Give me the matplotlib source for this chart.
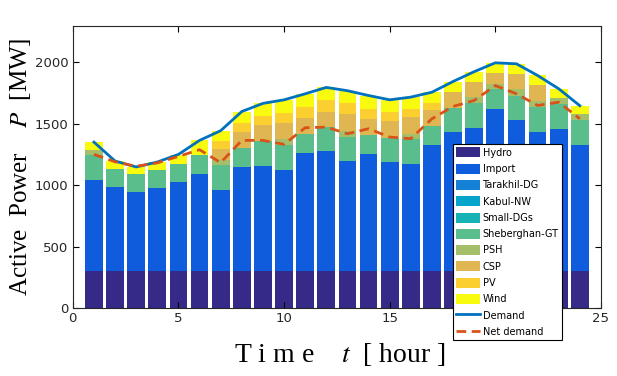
import numpy as np
import matplotlib
matplotlib.use("Agg")
import matplotlib.pyplot as plt
from matplotlib import font_manager

# hourly generation mix [MW]
hours = np.arange(1, 25)
hydro = [300] * 24
imports = [747, 688, 647, 679, 728, 795, 660, 850, 858, 823, 966, 977,
           898, 958, 890, 871, 1031, 1134, 1166, 1318, 1232, 1134, 1161, 1031]
tarakhil = [0] * 24
kabul_nw = [0] * 24
small_dgs = [0] * 24
sheberghan = [200, 148, 148, 146, 150, 155, 203, 155, 202, 202, 149, 197,
              195, 149, 195, 203, 149, 196, 201, 165, 199, 203, 203, 198]
psh = [42, 0, 0, 0, 0, 0, 41, 0, 0, 49, 0, 0,
       49, 0, 0, 46, 0, 0, 51, 45, 49, 49, 46, 48]
csp = [0, 0, 0, 0, 0, 0, 94, 129, 130, 133, 135, 127,
       135, 130, 138, 135, 130, 128, 127, 85, 127, 132, 0, 0]
pv = [0, 0, 0, 0, 0, 0, 60, 73, 76, 81, 87, 90,
      92, 86, 78, 68, 59, 0, 0, 0, 0, 0, 0, 0]
wind = [62, 62, 55, 67, 72, 116, 87, 94, 101, 108, 108, 106,
        101, 108, 95, 95, 89, 87, 80, 84, 82, 76, 76, 71]
demand = [1352, 1198, 1150, 1190, 1252, 1366, 1445, 1601, 1667, 1696, 1745, 1797,
          1770, 1731, 1696, 1718, 1758, 1845, 1925, 1997, 1989, 1894, 1786, 1648]
net_demand = [1252, 1192, 1155, 1183, 1236, 1290, 1185, 1366, 1366, 1334, 1469, 1474,
              1420, 1461, 1393, 1380, 1542, 1642, 1691, 1812, 1745, 1650, 1677, 1542]

sources = {
    'Hydro': (hydro, '#352a87'),
    'Import': (imports, '#0f5cdd'),
    'Tarakhil-DG': (tarakhil, '#1481d6'),
    'Kabul-NW': (kabul_nw, '#06a4ca'),
    'Small-DGs': (small_dgs, '#15b1b5'),
    'Sheberghan-GT': (sheberghan, '#59bd8c'),
    'PSH': (psh, '#a5be6a'),
    'CSP': (csp, '#e0b652'),
    'PV': (pv, '#fccf30'),
    'Wind': (wind, '#f9fb0e'),
}

installed = {f.name for f in font_manager.fontManager.ttflist}
narrow = 'Liberation Sans Narrow' if 'Liberation Sans Narrow' in installed else 'DejaVu Sans'
plt.rcParams['font.family'] = narrow
plt.rcParams['mathtext.fontset'] = 'stix'

fig = plt.figure(figsize=(6.17, 3.76), dpi=100)
ax = fig.add_axes([0.118, 0.180, 0.856, 0.752])

handles = []
bottom = np.zeros(24)
for name, (vals, color) in sources.items():
    b = ax.bar(hours, vals, bottom=bottom, width=0.84, color=color, label=name, linewidth=0)
    handles.append(b)
    bottom += np.array(vals)

l1, = ax.plot(hours, demand, color='#0072bd', lw=2, label='Demand')
l2, = ax.plot(hours, net_demand, color='#d95319', lw=2, ls=(0, (3.5, 2)), label='Net demand')
handles += [l1, l2]

ax.set_xlim(0, 25)
ax.set_ylim(0, 2300)
ax.set_xticks([0, 5, 10, 15, 20, 25])
ax.set_yticks([0, 500, 1000, 1500, 2000])
ax.tick_params(direction='in', top=True, right=True, labelsize=9.5, length=4, width=0.8, pad=3,
               labelcolor='#262626')
for s in ax.spines.values():
    s.set_linewidth(0.8)
    s.set_color('#262626')

ax.set_xlabel('T i m e    $t$  [ hour ]', family='Liberation Serif', fontsize=20)
ax.xaxis.set_label_coords(0.506, -0.115)
ax.set_ylabel('Active  Power    $P$  [MW]', family='Liberation Serif', fontsize=18)
ax.yaxis.set_label_coords(-0.075, 0.5)

leg = ax.legend(handles=handles, loc='upper left', bbox_to_anchor=(0.734, 0.617),
                bbox_transform=fig.transFigure, borderaxespad=0, fontsize=7,
                fancybox=False, framealpha=1, edgecolor='black',
                handlelength=2.4, handleheight=1.2, labelspacing=0.62, handletextpad=0.3,
                borderpad=0.35)
leg.get_frame().set_linewidth(0.8)
leg.set_zorder(10)

fig.savefig('out.png', dpi=100)
